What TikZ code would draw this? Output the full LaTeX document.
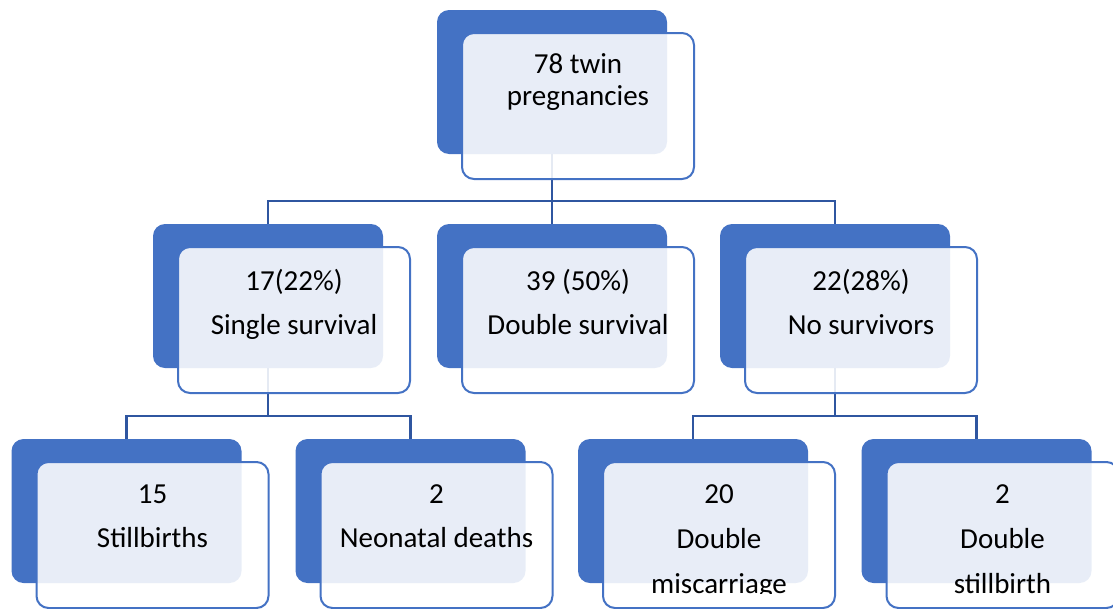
\documentclass[tikz,border=0pt]{standalone}
\usepackage{fontspec}
\setmainfont{Carlito}
\definecolor{accent}{RGB}{68,114,196}
\definecolor{linec}{RGB}{47,86,160}
\begin{document}
\begin{tikzpicture}[x=1pt,y=-1pt,
  back/.style={rectangle, rounded corners=12pt, fill=accent, draw=none, minimum width=230pt, minimum height=144pt, inner sep=0pt},
  front/.style={rectangle, rounded corners=12pt, draw=accent, line width=2pt, fill=white, fill opacity=0.88, draw opacity=1, minimum width=232pt, minimum height=146pt, inner sep=0pt},
  conn/.style={draw=linec, line width=2.8pt},
  txt/.style={anchor=base, inner sep=0pt, font=\fontsize{29}{34}\selectfont, text=black}]
\useasboundingbox (0,0) rectangle (1113,608);
% back boxes
\node[back] (b1) at (552,82) {};
\node[back] (b2) at (268,296) {};
\node[back] (b3) at (552,296) {};
\node[back] (b4) at (835,296) {};
\node[back] (b5) at (126.5,511) {};
\node[back] (b6) at (410.5,511) {};
\node[back] (b7) at (693,511) {};
\node[back] (b8) at (976.5,511) {};
% junctions
\coordinate (j1) at (552,201);
\coordinate (j2) at (268,416);
\coordinate (j4) at (835,416);
% connectors
\draw[conn] (b1.south) -- (j1);
\draw[conn] (b2.north) |- (j1) -| (b4.north);
\draw[conn] (j1) -- (b3.north);
\draw[conn] (b2.south) -- (j2);
\draw[conn] (b5.north) |- (j2) -| (b6.north);
\draw[conn] (b4.south) -- (j4);
\draw[conn] (b7.north) |- (j4) -| (b8.north);
% front boxes
\node[front] (f1) at (578,106) {};
\node[front] (f2) at (294,320) {};
\node[front] (f3) at (578,320) {};
\node[front] (f4) at (861,320) {};
\node[front] (f5) at (152.5,535) {};
\node[front] (f6) at (436.5,535) {};
\node[front] (f7) at (719,535) {};
\node[front] (f8) at (1002.5,535) {};
% texts
\begin{scope}
\clip (0,0) rectangle (1113,593);
\node[txt] (t1a) at (578,73) {78 twin};
\node[txt] (t1b) at (578,105) {pregnancies};
\node[txt] (t2a) at (294,290) {17(22\%)};
\node[txt] (t2b) at (294,334) {Single survival};
\node[txt] (t3a) at (578,290) {39 (50\%)};
\node[txt] (t3b) at (578,334) {Double survival};
\node[txt] (t4a) at (861,290) {22(28\%)};
\node[txt] (t4b) at (861,334) {No survivors};
\node[txt] (t5a) at (152.5,503) {15};
\node[txt] (t5b) at (152.5,547) {Stillbirths};
\node[txt] (t6a) at (436.5,503) {2};
\node[txt] (t6b) at (436.5,547) {Neonatal deaths};
\node[txt] (t7a) at (719,503) {20};
\node[txt] (t7b) at (719,548) {Double};
\node[txt] (t7c) at (719,593) {miscarriage};
\node[txt] (t8a) at (1002.5,503) {2};
\node[txt] (t8b) at (1002.5,548) {Double};
\node[txt] (t8c) at (1002.5,593) {stillbirth};
\end{scope}
\end{tikzpicture}
\end{document}
